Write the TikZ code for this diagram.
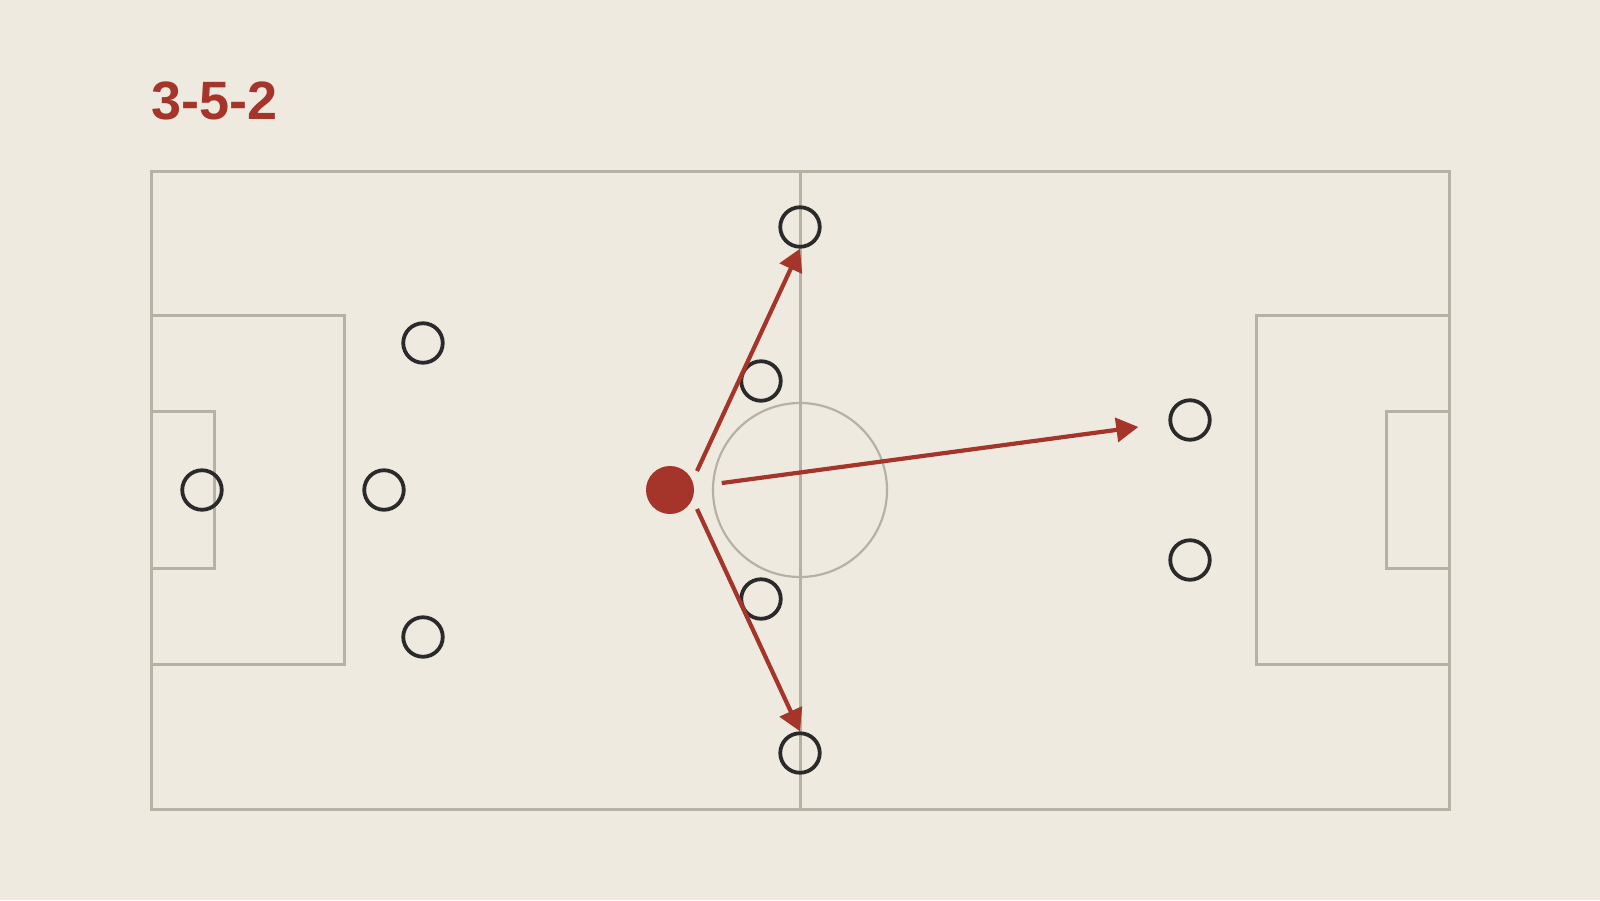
\documentclass[tikz,border=0pt]{standalone}
\usepackage{fontspec}
\setmainfont{Liberation Sans}
\usetikzlibrary{arrows.meta}
\definecolor{pitchbg}{HTML}{EEEAE0}
\definecolor{pitchline}{HTML}{B6B2A3}
\definecolor{passred}{HTML}{A5342A}
\definecolor{ring}{HTML}{2A2A2A}
\tikzset{
  markings/.style={draw=pitchline, line width=3pt},
  player/.style={circle, draw=ring, line width=3.8pt, minimum size=39.5pt, inner sep=0pt},
  carrier/.style={circle, fill=passred, minimum size=48pt, inner sep=0pt},
  pass/.style={draw=passred, line width=4.2pt, -{Triangle[length=22pt,width=24pt]}}
}
\begin{document}
\begin{tikzpicture}[x=1pt,y=-1pt]
\fill[pitchbg] (0,0) rectangle (1600,900);
\useasboundingbox (0,0) rectangle (1600,900);
\begin{scope}[markings]
\draw (151,171) rectangle (1449,809);
\draw (800,171) -- (800,809);
\draw[line width=2.2pt] (800,490) circle (87pt);
\draw (151,315) rectangle (344,664);
\draw (151,411) rectangle (214,568);
\draw (1449,315) rectangle (1256,664);
\draw (1449,411) rectangle (1386,568);
\end{scope}
\node[anchor=base west, text=passred, font=\bfseries\fontsize{54}{58}\selectfont] (title) at (147.5,119.5) {3-5-2};
\begin{scope}
\node[player] (gk) at (202,490) {};
\node[player] (cb1) at (423,343) {};
\node[player] (cb2) at (384,490) {};
\node[player] (cb3) at (423,637) {};
\node[player] (wb1) at (800,227) {};
\node[player] (cm1) at (761,381) {};
\node[carrier] (dm) at (670,490) {};
\node[player] (cm2) at (761,599) {};
\node[player] (wb2) at (800,753) {};
\node[player] (st1) at (1190,420) {};
\node[player] (st2) at (1190,560) {};
\end{scope}
\begin{scope}
\coordinate (dmup) at (697,471);
\coordinate (dmdown) at (697,509);
\draw[pass] (dmup) -- (wb1.south);
\draw[pass] (dmdown) -- (wb2.north);
\draw[pass, shorten <=28pt, shorten >=30.5pt] (dm) -- (st1);
\end{scope}
\end{tikzpicture}
\end{document}
